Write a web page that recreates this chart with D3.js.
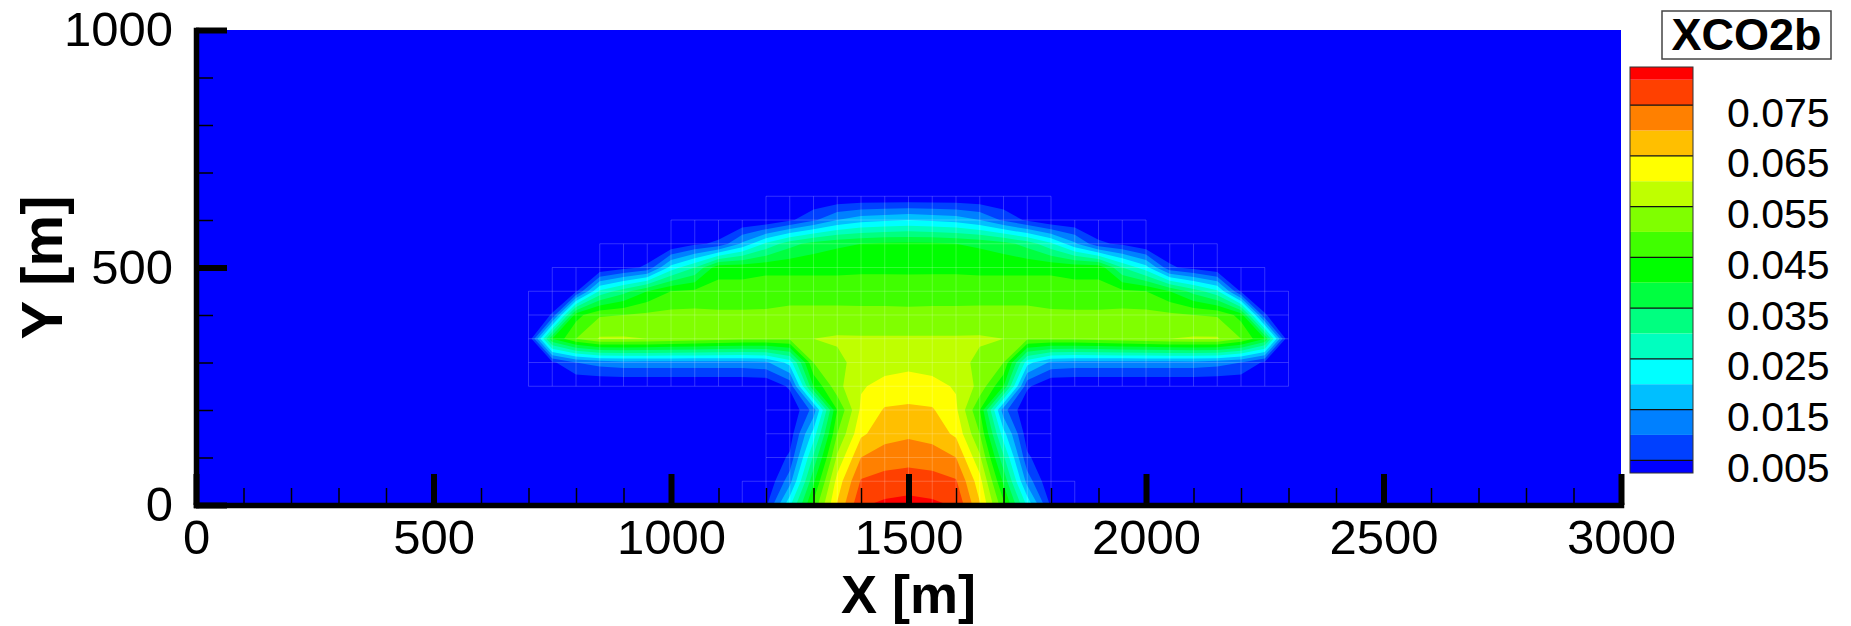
<!DOCTYPE html>
<html>
<head>
<meta charset="utf-8">
<script src="https://cdn.jsdelivr.net/npm/d3@7"></script>
<style>
  body { margin: 0; background: #fff; }
  svg { font-family: "Liberation Sans", Arial, Helvetica, sans-serif; }
</style>
</head>
<body>
<div id="chart-area"></div>
<script>
// XCO2b contour field on a 50 m mesh


// contour levels and flood colours (one more colour than levels)
var levels = [0.005, 0.01, 0.015, 0.02, 0.025, 0.03, 0.035, 0.04,
              0.045, 0.05, 0.055, 0.06, 0.065, 0.07, 0.075, 0.08];
var bandColors = ["#0000ff", "#0040ff", "#0080ff", "#00bfff", "#00ffff", "#00ffbf",
                  "#00ff80", "#00ff40", "#00ff00", "#40ff00", "#80ff00", "#bfff00",
                  "#ffff00", "#ffbf00", "#ff8000", "#ff4000", "#ff0000"];
var legendLabels = [0.005, 0.015, 0.025, 0.035, 0.045, 0.055, 0.065, 0.075];

// ticks
var xMajor = [0, 500, 1000, 1500, 2000, 2500, 3000];
var xMinor = [100, 200, 300, 400, 600, 700, 800, 900, 1100, 1200, 1300, 1400,
              1600, 1700, 1800, 1900, 2100, 2200, 2300, 2400, 2600, 2700, 2800, 2900];
var yMajor = [0, 500, 1000];
var yMinor = [100, 200, 300, 400, 600, 700, 800, 900];

// mesh: nodes from X = 700 to 2300 m, Y = 0 to 650 m, every 50 m
var meshX0 = 700, meshStep = 50;

// XCO2b at the nodes, one row per Y level (left to right in X)
var yAt0   = [0,0,0,0,0,0,0,0,0,0,0.004,0.024,0.0465,0.0655,0.0795,0.081,0.0817,
              0.081,0.0795,0.0655,0.0465,0.024,0.004,0,0,0,0,0,0,0,0,0,0];
var yAt50  = [0,0,0,0,0,0,0,0,0,0,0,0.013,0.039,0.062,0.0755,0.077,0.0776,
              0.077,0.0755,0.062,0.039,0.013,0,0,0,0,0,0,0,0,0,0,0];
var yAt100 = [0,0,0,0,0,0,0,0,0,0,0,0.006,0.031,0.056,0.070,0.0725,0.0731,
              0.0725,0.070,0.056,0.031,0.006,0,0,0,0,0,0,0,0,0,0,0];
var yAt150 = [0,0,0,0,0,0,0,0,0,0,0,0.002,0.022,0.050,0.064,0.068,0.0691,
              0.068,0.064,0.050,0.022,0.002,0,0,0,0,0,0,0,0,0,0,0];
var yAt200 = [0,0,0,0,0,0,0,0,0,0,0,0,0.012,0.045,0.061,0.0655,0.066,
              0.0655,0.061,0.045,0.012,0,0,0,0,0,0,0,0,0,0,0,0];
var yAt250 = [0,0,0,0,0,0,0,0,0,0,0,0.006,0.040,0.0535,0.0595,0.0615,0.062,
              0.0615,0.0595,0.0535,0.040,0.006,0,0,0,0,0,0,0,0,0,0,0];
var yAt300 = [0,0.004,0.010,0.012,0.013,0.013,0.013,0.013,0.013,0.013,0.014,0.022,0.050,0.054,0.0565,0.058,0.0588,
              0.058,0.0565,0.054,0.050,0.022,0.014,0.013,0.013,0.013,0.013,0.013,0.013,0.012,0.010,0.004,0];
var yAt350 = [0,0.040,0.050,0.0555,0.0555,0.055,0.054,0.053,0.052,0.051,0.051,0.051,0.055,0.0555,0.0555,0.0555,0.0555,
              0.0555,0.0555,0.0555,0.055,0.051,0.051,0.051,0.052,0.053,0.054,0.055,0.0555,0.0555,0.050,0.040,0];
var yAt400 = [0,0.0055,0.043,0.0495,0.050,0.051,0.0515,0.0515,0.051,0.051,0.051,0.052,0.052,0.052,0.0515,0.0515,0.0514,
              0.0515,0.0515,0.052,0.052,0.052,0.051,0.051,0.051,0.0515,0.0515,0.051,0.050,0.0495,0.043,0.0055,0];
var yAt450 = [0,0,0.004,0.026,0.033,0.040,0.045,0.046,0.0465,0.0465,0.047,0.047,0.047,0.047,0.0475,0.0475,0.0474,
              0.0475,0.0475,0.047,0.047,0.047,0.047,0.0465,0.0465,0.046,0.045,0.040,0.033,0.026,0.004,0,0];
var yAt500 = [0,0,0,0,0.003,0.006,0.022,0.030,0.0435,0.0435,0.044,0.044,0.044,0.044,0.044,0.044,0.044,
              0.044,0.044,0.044,0.044,0.044,0.044,0.0435,0.0435,0.030,0.022,0.006,0.003,0,0,0,0];
var yAt550 = [0,0,0,0,0,0,0,0.004,0.006,0.016,0.026,0.033,0.037,0.039,0.040,0.041,0.041,
              0.041,0.040,0.039,0.037,0.033,0.026,0.016,0.006,0.004,0,0,0,0,0,0,0];
var yAt600 = [0,0,0,0,0,0,0,0,0,0,0,0.004,0.009,0.015,0.018,0.019,0.020,
              0.019,0.018,0.015,0.009,0.004,0,0,0,0,0,0,0,0,0,0,0];
var yAt650 = [0,0,0,0,0,0,0,0,0,0,0,0,0,0,0,0,0,
              0,0,0,0,0,0,0,0,0,0,0,0,0,0,0,0];

var field = [yAt0, yAt50, yAt100, yAt150, yAt200, yAt250, yAt300,
             yAt350, yAt400, yAt450, yAt500, yAt550, yAt600, yAt650];


//////////  Scales  ///////////
var x = d3.scaleLinear().domain([0, 3000]).range([196, 1621]);
var y = d3.scaleLinear().domain([0, 1000]).range([505, 30]);

// legend bar scale: half a band beyond the first and last level
var cbY = d3.scaleLinear().domain([0.0025, 0.0825]).range([473, 67]);


var svg = d3.select("#chart-area")
    .append("svg")
        .attr("width", 1851)
        .attr("height", 626);

svg.append("clipPath")
    .attr("id", "plot-clip")
  .append("rect")
    .attr("x", x(0)).attr("y", y(1000))
    .attr("width", x(3000) - x(0)).attr("height", y(0) - y(1000));

// background = lowest band
svg.append("rect")
    .attr("x", x(0)).attr("y", y(1000))
    .attr("width", x(3000) - x(0)).attr("height", y(0) - y(1000))
    .attr("fill", bandColors[0]);

var plot = svg.append("g").attr("clip-path", "url(#plot-clip)");

// contour flood
var nx = field[0].length, ny = field.length;
var values = [].concat.apply([], field);
var bands = d3.contours().size([nx, ny]).thresholds(levels)(values);

var gridToPix = d3.geoTransform({
    point: function(gx, gy) {
        this.stream.point(x(meshX0 + (gx - 0.5) * meshStep), y((gy - 0.5) * meshStep));
    }
});
var path = d3.geoPath(gridToPix);

plot.selectAll("path.band")
    .data(bands)
    .enter()
    .append("path")
        .attr("class", "band")
        .attr("d", path)
        .attr("fill", function(d, i) { return bandColors[i + 1]; });

// faint mesh where the cells carry CO2
function active(i, j) {
    if (i < 0 || j < 0 || i >= nx - 1 || j >= ny - 1) return false;
    return field[j][i] > 0 || field[j][i + 1] > 0 || field[j + 1][i] > 0 || field[j + 1][i + 1] > 0;
}
var meshLines = [];
for (var j = 1; j < ny; j++) {
    for (var i = 0; i < nx - 1; i++) {
        if (active(i, j - 1) || active(i, j)) meshLines.push([i, j, i + 1, j]);
    }
}
for (var i = 0; i < nx; i++) {
    for (var j = 0; j < ny - 1; j++) {
        if (active(i - 1, j) || active(i, j)) meshLines.push([i, j, i, j + 1]);
    }
}
plot.selectAll("line.mesh")
    .data(meshLines)
    .enter()
    .append("line")
        .attr("class", "mesh")
        .attr("x1", function(d) { return x(meshX0 + d[0] * meshStep); })
        .attr("y1", function(d) { return y(d[1] * meshStep); })
        .attr("x2", function(d) { return x(meshX0 + d[2] * meshStep); })
        .attr("y2", function(d) { return y(d[3] * meshStep); })
        .attr("stroke", "#ffffff")
        .attr("stroke-opacity", 0.2)
        .attr("stroke-width", 1);


//////////  Draw Axes  ///////////
// minor ticks
svg.append("g")
    .attr("transform", "translate(0," + y(0) + ")")
    .call(d3.axisBottom(x).tickValues(xMinor).tickSize(-17).tickFormat(""))
    .call(function(g) {
        g.select(".domain").remove();
        g.selectAll("line").attr("stroke", "#000").attr("stroke-width", 1.5);
    });
svg.append("g")
    .attr("transform", "translate(" + x(0) + ",0)")
    .call(d3.axisLeft(y).tickValues(yMinor).tickSize(-17).tickFormat(""))
    .call(function(g) {
        g.select(".domain").remove();
        g.selectAll("line").attr("stroke", "#000").attr("stroke-width", 1.5);
    });

// X-Axis
svg.append("g")
    .attr("class", "x axis")
    .attr("transform", "translate(0," + y(0) + ")")
    .call(d3.axisBottom(x).tickValues(xMajor).tickFormat(d3.format("d"))
        .tickSizeInner(-31).tickSizeOuter(0).tickPadding(14))
    .call(function(g) {
        g.select(".domain").attr("stroke", "#000").attr("stroke-width", 5.5).attr("stroke-linecap", "square");
        g.selectAll("line").attr("stroke", "#000").attr("stroke-width", 6);
        g.selectAll("text").attr("font-size", "49px").attr("fill", "#000")
            .attr("font-family", "Liberation Sans, Arial, sans-serif");
    });

// Y-Axis
svg.append("g")
    .attr("class", "y axis")
    .attr("transform", "translate(" + x(0) + ",0)")
    .call(d3.axisLeft(y).tickValues(yMajor).tickFormat(d3.format("d"))
        .tickSizeInner(-31).tickSizeOuter(0).tickPadding(23))
    .call(function(g) {
        g.select(".domain").attr("stroke", "#000").attr("stroke-width", 5.5).attr("stroke-linecap", "square");
        g.selectAll("line").attr("stroke", "#000").attr("stroke-width", 6);
        g.selectAll("text").attr("font-size", "49px").attr("fill", "#000")
            .attr("font-family", "Liberation Sans, Arial, sans-serif");
    });

// X Label
svg.append("text")
    .attr("x", (x(0) + x(3000)) / 2)
    .attr("y", 613)
    .attr("font-size", "54px")
    .attr("font-weight", "bold")
    .attr("text-anchor", "middle")
    .text("X [m]");

// Y Label
svg.append("text")
    .attr("transform", "translate(62," + ((y(0) + y(1000)) / 2) + ") rotate(-90)")
    .attr("font-size", "58px")
    .attr("font-weight", "bold")
    .attr("text-anchor", "middle")
    .text("Y [m]");


//////////  Legend  ///////////
var legend = svg.append("g");
var cbLeft = 1630, cbWidth = 63;
var bandEdges = [cbY.domain()[0]].concat(levels, [cbY.domain()[1]]);

legend.selectAll("rect.cb")
    .data(bandColors)
    .enter()
    .append("rect")
        .attr("class", "cb")
        .attr("x", cbLeft)
        .attr("width", cbWidth)
        .attr("y", function(d, i) { return cbY(bandEdges[i + 1]); })
        .attr("height", function(d, i) { return cbY(bandEdges[i]) - cbY(bandEdges[i + 1]); })
        .attr("fill", function(d) { return d; });

legend.selectAll("line.cb")
    .data(legendLabels)
    .enter()
    .append("line")
        .attr("x1", cbLeft).attr("x2", cbLeft + cbWidth)
        .attr("y1", function(d) { return cbY(d); })
        .attr("y2", function(d) { return cbY(d); })
        .attr("stroke", "#111")
        .attr("stroke-width", 1.2);

legend.append("rect")
    .attr("x", cbLeft).attr("y", cbY.range()[1])
    .attr("width", cbWidth).attr("height", cbY.range()[0] - cbY.range()[1])
    .attr("fill", "none")
    .attr("stroke", "#333")
    .attr("stroke-width", 1);

legend.selectAll("text.cb")
    .data(legendLabels)
    .enter()
    .append("text")
        .attr("x", 1727)
        .attr("y", function(d) { return cbY(d) + 21.5; })
        .attr("font-size", "41px")
        .text(function(d) { return d3.format(".3f")(d); });

// legend title
legend.append("rect")
    .attr("x", 1662).attr("y", 11)
    .attr("width", 169).attr("height", 48)
    .attr("fill", "#fff")
    .attr("stroke", "#444")
    .attr("stroke-width", 1.5);
legend.append("text")
    .attr("x", 1746.5).attr("y", 50)
    .attr("font-size", "45px")
    .attr("font-weight", "bold")
    .attr("text-anchor", "middle")
    .text("XCO2b");
</script>
</body>
</html>
